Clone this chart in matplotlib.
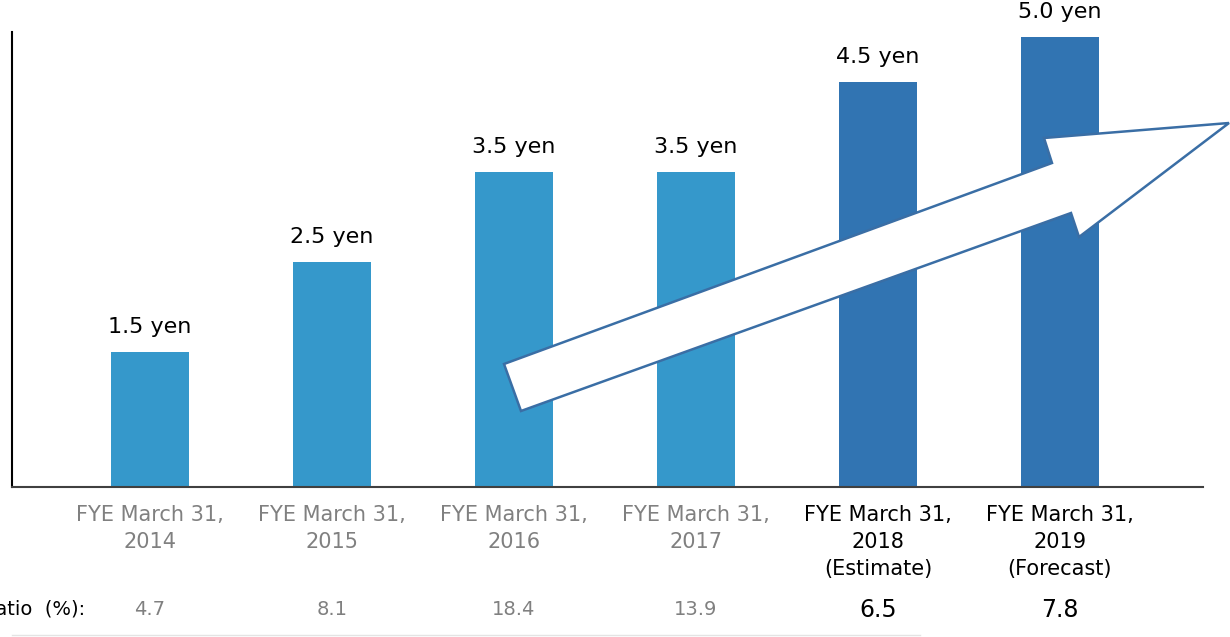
import numpy as np
import matplotlib.pyplot as plt
from matplotlib.patches import Polygon
from matplotlib.lines import Line2D
from matplotlib.transforms import blended_transform_factory

#========================================================
# Dividend per share, with payout ratio row underneath
#========================================================

years     = ["2014", "2015", "2016", "2017", "2018", "2019"]
notes     = ["", "", "", "", "(Estimate)", "(Forecast)"]
dividends = [1.5, 2.5, 3.5, 3.5, 4.5, 5.0]
payout    = ["4.7", "8.1", "18.4", "13.9", "6.5", "7.8"]
is_plan   = [False, False, False, False, True, True]

LIGHT = "#3598cb"
DARK  = "#3174b2"
GREY  = "#808080"

fig = plt.figure(figsize=(12.3, 6.37), dpi=100)
ax = fig.add_axes([12/1230, 150/637, 1191/1230, 455/637])

x = np.arange(len(years))
colors = [DARK if p else LIGHT for p in is_plan]
bars = ax.bar(x, dividends, width=0.43, color=colors, zorder=2)

for b, v in zip(bars, dividends):
    ax.annotate(f"{v:.1f} yen", (b.get_x() + b.get_width()/2, b.get_height()),
                xytext=(0, 11), textcoords="offset points",
                ha="center", va="bottom", fontsize=16, color="black")

ax.set_xlim(-0.758, 5.786)
ax.set_ylim(0, 5.06)
ax.set_yticks([])

labels = []
for y, n in zip(years, notes):
    s = "FYE March 31,\n" + y
    if n:
        s += "\n" + n
    labels.append(s)
ax.set_xticks(x)
ax.set_xticklabels(labels, fontsize=15, linespacing=1.45, va="top")
ax.tick_params(axis="x", length=0, pad=13)
for lbl, p in zip(ax.get_xticklabels(), is_plan):
    lbl.set_color("black" if p else GREY)

for s in ["top", "right"]:
    ax.spines[s].set_visible(False)
ax.spines["left"].set_linewidth(1.5)
ax.spines["left"].set_color("black")
ax.spines["bottom"].set_linewidth(1.5)
ax.spines["bottom"].set_color("#404040")

# payout ratio row
trans = blended_transform_factory(ax.transData, ax.transAxes)
ax.text(-0.357, -0.270, "Payout ratio  (%):", transform=trans, ha="right",
        va="center", fontsize=14, color="black", clip_on=False)
for xi, v, p in zip(x, payout, is_plan):
    ax.text(xi, -0.270, v, transform=trans, ha="center", va="center",
            fontsize=17 if p else 14, color="black" if p else GREY, clip_on=False)

# growth arrow (decoration, figure pixels -> fraction)
arrow_px = [(504, 364), (1052, 163), (1044, 138), (1229, 123),
            (1079, 237), (1071, 213), (521, 411)]
arrow = [(px/1230, 1 - py/637) for px, py in arrow_px]
fig.patches.append(Polygon(arrow, closed=True, facecolor="white",
                           edgecolor="#3a6ea5", linewidth=1.8,
                           transform=fig.transFigure, zorder=5))

fig.lines.append(Line2D([12/1230, 920/1230], [1 - 635/637]*2,
                        transform=fig.transFigure, color="#e4e4e4", linewidth=1))

plt.savefig("out.png", dpi=100)
